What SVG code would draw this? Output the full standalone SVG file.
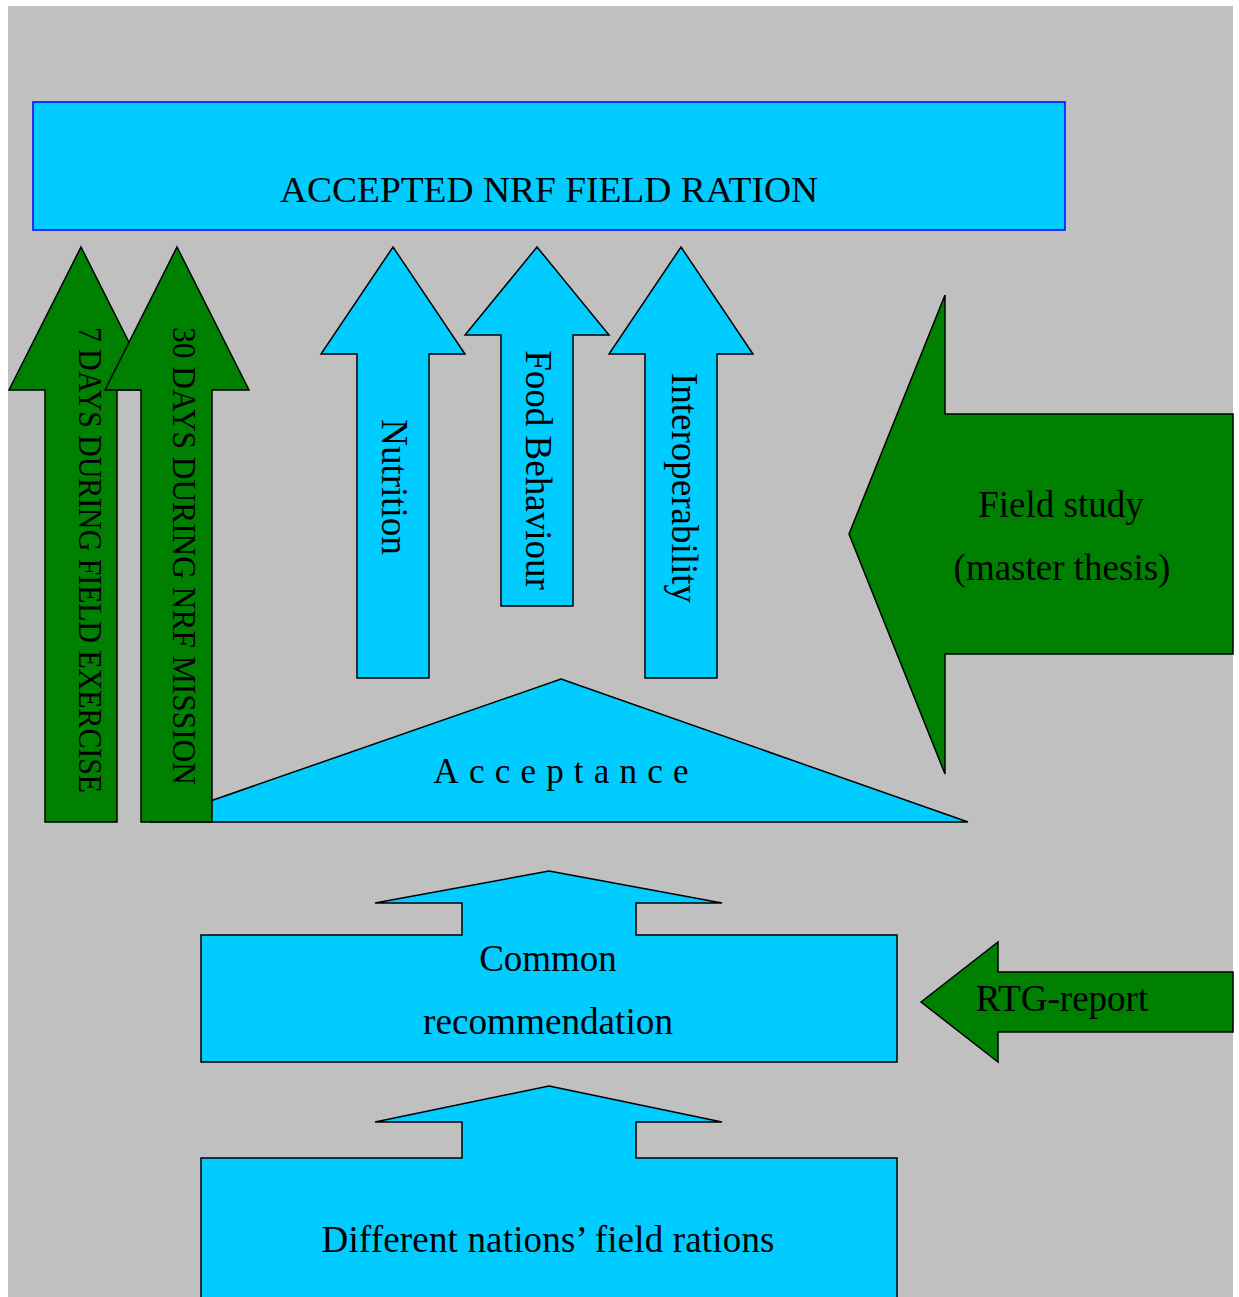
<svg xmlns="http://www.w3.org/2000/svg" width="1239" height="1297" viewBox="0 0 1239 1297">
<style>
.blue{fill:#00CCFF;stroke:#000;stroke-width:1.5;stroke-linejoin:miter}
.green{fill:#008000;stroke:#000;stroke-width:1.5}
text{font-family:"Liberation Serif","Times New Roman",serif;fill:#000}
</style>
<rect x="0" y="0" width="1239" height="1297" fill="#fff"/>
<rect x="8" y="6" width="1225" height="1291" fill="#C0C0C0"/>
<g id="accepted">
<rect x="33" y="102" width="1032" height="128" fill="#00CCFF" stroke="#0000FF" stroke-width="1.5"/>
<text x="549" y="202" font-size="36" text-anchor="middle" textLength="538" lengthAdjust="spacingAndGlyphs">ACCEPTED NRF FIELD RATION</text>
</g>
<g id="acceptance">
<polygon class="blue" points="561,679 968,822 150,822"/>
<text x="561" y="783" font-size="35" text-anchor="middle" textLength="255" lengthAdjust="spacing">Acceptance</text>
</g>
<g id="days7">
<polygon class="green" points="81,247 153,390 117,390 117,822 45,822 45,390 9,390"/>
<text transform="translate(79,327) rotate(90)" font-size="33" textLength="466" lengthAdjust="spacingAndGlyphs">7 DAYS  DURING FIELD EXERCISE</text>
</g>
<g id="days30">
<polygon class="green" points="177,247 249,390 212,390 212,822 141,822 141,390 105,390"/>
<text transform="translate(173,327) rotate(90)" font-size="33" textLength="458" lengthAdjust="spacingAndGlyphs">30 DAYS  DURING  NRF MISSION</text>
</g>
<g id="nutrition">
<polygon class="blue" points="393,247 465,354 429,354 429,678 357,678 357,354 321,354"/>
<text transform="translate(382,487) rotate(90)" font-size="37" text-anchor="middle">Nutrition</text>
</g>
<g id="food">
<polygon class="blue" points="537,247 609,335 573,335 573,606 501,606 501,335 465,335"/>
<text transform="translate(526,470) rotate(90)" font-size="37" text-anchor="middle">Food Behaviour</text>
</g>
<g id="interop">
<polygon class="blue" points="681,247 753,354 717,354 717,678 645,678 645,354 609,354"/>
<text transform="translate(672,488) rotate(90)" font-size="37" text-anchor="middle">Interoperability</text>
</g>
<g id="fieldstudy">
<polygon class="green" points="849,534 945,295 945,414 1233,414 1233,654 945,654 945,774"/>
<text x="1061" y="517" font-size="37" text-anchor="middle">Field study</text>
<text x="1062" y="580" font-size="37" text-anchor="middle">(master thesis)</text>
</g>
<g id="common">
<polygon class="blue" points="549,871 722,903 636,903 636,935 897,935 897,1062 201,1062 201,935 462,935 462,903 375,903"/>
<text x="548" y="971" font-size="37" text-anchor="middle">Common</text>
<text x="548" y="1034" font-size="37" text-anchor="middle" textLength="250" lengthAdjust="spacingAndGlyphs">recommendation</text>
</g>
<g id="rtg">
<polygon class="green" points="921,1002 998,942 998,972 1233,972 1233,1032 998,1032 998,1062"/>
<text x="1062" y="1011" font-size="37" text-anchor="middle">RTG-report</text>
</g>
<g id="nations">
<polygon class="blue" points="549,1086 722,1122 636,1122 636,1158 897,1158 897,1300 201,1300 201,1158 462,1158 462,1122 375,1122"/>
<text x="548" y="1252" font-size="37" text-anchor="middle" textLength="453" lengthAdjust="spacing">Different nations’ field rations</text>
</g>
<g id="connectors"></g>
</svg>
